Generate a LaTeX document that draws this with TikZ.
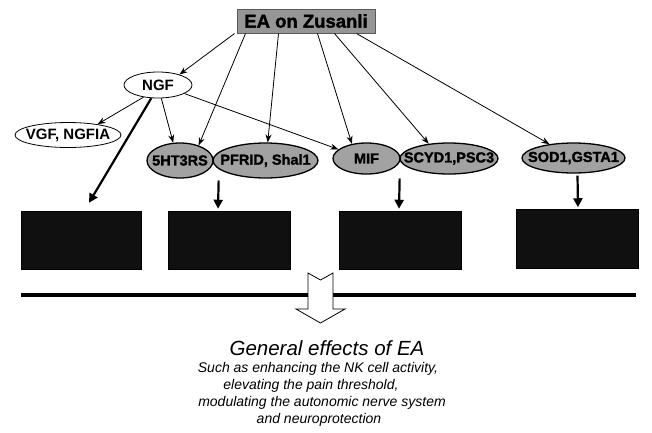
\documentclass[tikz,border=0pt]{standalone}
\usepackage{fontspec}
\setmainfont{Liberation Sans}
\newfontfamily\heavyfont{Liberation Sans}[BoldFeatures={FakeBold=1.6}]
\usetikzlibrary{arrows.meta,shapes.geometric,calc}
\definecolor{nodegray}{RGB}{162,162,162}
\definecolor{boxgray}{RGB}{150,150,150}
\definecolor{darkbox}{RGB}{16,16,16}
\newcommand{\zw}[1]{\makebox[0pt]{#1}}
\tikzset{
 eabox/.style={draw=black!65, fill=boxgray, line width=1pt, minimum width=138pt, minimum height=24pt, inner sep=0pt, font=\fontsize{18.5}{20}\selectfont\heavyfont\bfseries},
 wellipse/.style={ellipse, draw, line width=0.8pt, fill=white, inner sep=0pt, font=\fontsize{15}{16}\selectfont\bfseries},
 gellipse/.style={ellipse, draw, line width=1.3pt, fill=nodegray, inner sep=0pt, font=\fontsize{14.5}{16}\selectfont\heavyfont\bfseries},
 dbox/.style={fill=darkbox, draw=black, line width=0.5pt, inner sep=0pt},
 thinarrow/.style={line width=0.8pt, -{Stealth[length=8pt,width=6pt]}},
 thickarrow/.style={line width=2.2pt, -{Triangle[length=9pt,width=9pt]}},
 barline/.style={line width=4.5pt},
 hollowarrow/.style={draw, fill=white, line width=0.8pt, line join=miter},
 titletext/.style={font=\fontsize{20.5}{24}\selectfont\itshape, anchor=base, inner sep=0pt},
 subtext/.style={font=\fontsize{14}{17}\selectfont\itshape, anchor=base, inner sep=0pt},
}
\begin{document}
\begin{tikzpicture}[x=1pt,y=-1pt]
\useasboundingbox (0,0) rectangle (652,432);

% nodes
\node[eabox] (ea) at (306,21) {\zw{EA on Zusanli}};
\node[wellipse, minimum width=68pt, minimum height=26pt] (ngf) at (158,85) {\zw{NGF}};
\node[wellipse, minimum width=106pt, minimum height=25pt] (vgf) at (68,135) {\zw{VGF, NGFIA}};
\node[gellipse, minimum width=66pt, minimum height=35pt] (ht) at (180,160.5) {\zw{5HT3RS}};
\node[gellipse, minimum width=105pt, minimum height=35pt] (pfr) at (265.5,160.5) {\zw{PFRID, Shal1}};
\node[gellipse, minimum width=67pt, minimum height=31pt] (mif) at (366.5,158.5) {\zw{MIF}};
\node[gellipse, minimum width=98pt, minimum height=31pt] (scy) at (449,158.5) {\zw{SCYD1,PSC3}};
\node[gellipse, minimum width=103pt, minimum height=30pt] (sod) at (573.5,158) {\zw{SOD1,GSTA1}};

\node[dbox, minimum width=120pt, minimum height=58pt] (b1) at (81,240) {};
\node[dbox, minimum width=122pt, minimum height=58pt] (b2) at (229,240) {};
\node[dbox, minimum width=122pt, minimum height=58pt] (b3) at (400,240) {};
\node[dbox, minimum width=122pt, minimum height=59pt] (b4) at (577,239) {};

% connectors from EA on Zusanli
\draw[thinarrow] ([xshift=-2pt]ea.south west) -- (ngf.26);
\draw[thinarrow] ([xshift=9pt]ea.south west) -- (ht.39);
\draw[thinarrow] ([xshift=42pt]ea.south west) -- (pfr.83);
\draw[thinarrow] ([xshift=81pt]ea.south west) -- (mif.135);
\draw[thinarrow] ([xshift=98pt]ea.south west) -- (scy.144);
\draw[thinarrow] ([xshift=120pt]ea.south west) -- (sod.150);

% connectors from NGF
\draw[thinarrow] (ngf.220) -- (vgf.20);
\draw[thinarrow] (ngf.284) -- (ht.111);
\draw[thinarrow] (ngf.342) -- (mif.162);
\draw[thickarrow] (ngf.243) -- ([xshift=8pt,yshift=8pt]b1.north);

% down arrows to boxes
\draw[thickarrow] ([xshift=5pt,yshift=-20pt]ht.east) -- ([xshift=-11pt,yshift=2pt]b2.north);
\draw[thickarrow] ([xshift=-1pt,yshift=-20pt]mif.east) -- ([xshift=-1pt,yshift=2pt]b3.north);
\draw[thickarrow] ([xshift=4pt,yshift=-2pt]sod.south) -- ([xshift=1pt,yshift=2pt]b4.north);

% bar and hollow arrow
\draw[barline] (21,295) -- (636,295);
\draw[hollowarrow] (308,273) -- (320.5,280) -- (333,273) -- (333,309) -- (345,309)
  -- (320.5,323) -- (296,309) -- (308,309) -- cycle;

% texts
\node[titletext] (gen) at (327,355) {General effects of EA};
\node[subtext] (l1) at (318,372) {Such as enhancing the NK cell activity,};
\node[subtext] (l2) at (311,389) {elevating the pain threshold,};
\node[subtext] (l3) at (322,406) {modulating the autonomic nerve system};
\node[subtext] (l4) at (319,423) {and neuroprotection};
\end{tikzpicture}
\end{document}
